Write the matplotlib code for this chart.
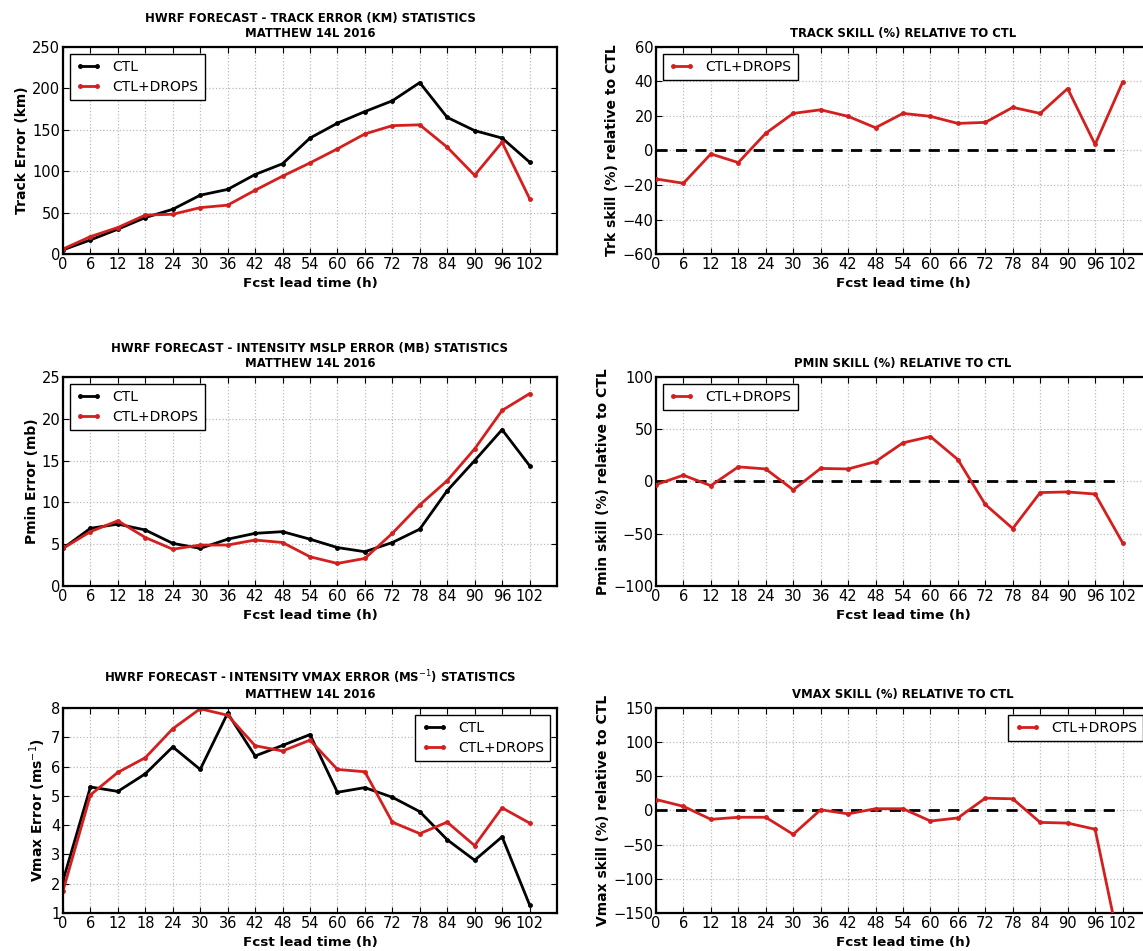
import numpy as np
import matplotlib
matplotlib.use('Agg')
import matplotlib.pyplot as plt

# Forecast lead times (h)
lead = [0, 6, 12, 18, 24, 30, 36, 42, 48, 54, 60, 66, 72, 78, 84, 90, 96, 102]

# Track error (km)
trk_ctl = [5, 17, 30, 44, 54, 71, 78, 96, 109, 140, 158, 172, 185, 207, 165, 149, 140, 111]
trk_drops = [6, 21, 32, 47, 48, 56, 59, 77, 94, 110, 127, 145, 155, 156, 129, 95, 135, 67]
trk_skill = [-16.5, -19, -2, -7, 10, 21.5, 23.6, 19.8, 13.2, 21.5, 19.8, 15.7, 16.3, 25, 21.5, 35.9, 3.5, 39.5]

# Pmin error (mb)
pmin_ctl = [4.5, 6.9, 7.4, 6.7, 5.1, 4.5, 5.6, 6.3, 6.5, 5.6, 4.6, 4.1, 5.2, 6.8, 11.4, 15.0, 18.7, 14.4]
pmin_drops = [4.5, 6.5, 7.8, 5.8, 4.4, 4.9, 4.9, 5.5, 5.2, 3.5, 2.7, 3.3, 6.3, 9.7, 12.6, 16.4, 21.0, 23.0]
pmin_skill = [-3, 6, -4, 14, 12, -8, 12.5, 12, 19, 37, 43, 21, -22, -45, -10.6, -10, -12, -58.5]

# Vmax error (m/s)
vmax_ctl = [2.1, 5.3, 5.15, 5.75, 6.67, 5.9, 7.82, 6.36, 6.72, 7.09, 5.12, 5.28, 4.95, 4.46, 3.5, 2.8, 3.6, 1.28]
vmax_drops = [1.75, 5.03, 5.8, 6.3, 7.29, 7.97, 7.75, 6.71, 6.53, 6.9, 5.9, 5.82, 4.1, 3.71, 4.1, 3.3, 4.59, 4.07]
vmax_skill = [16, 6, -13, -10, -10, -35, 1, -5, 2.5, 2.5, -15.5, -11, 18, 17, -17.5, -18.5, -27.5, -219]

RED = '#d41f1f'
plt.rcParams['font.family'] = 'DejaVu Sans'
plt.rcParams['xtick.direction'] = 'in'
plt.rcParams['ytick.direction'] = 'in'
plt.rcParams['xtick.top'] = True
plt.rcParams['ytick.right'] = True

fig = plt.figure(figsize=(11.43, 9.51), dpi=100)

xl, xr, w = 0.0551, 0.5739, 0.4322
rows = [(0.7329, 0.2177), (0.3838, 0.2198), (0.0400, 0.2156)]

def style(ax, ylims, yticks, ylabel, title, loc):
    ax.set_xlim(0, 108)
    ax.set_xticks(lead)
    ax.set_ylim(*ylims)
    ax.set_yticks(yticks)
    ax.grid(True, color='#bbbbbb', linestyle=':', linewidth=0.9)
    ax.set_axisbelow(True)
    ax.tick_params(labelsize=10.5, length=4, width=0.8, pad=2)
    for s in ax.spines.values():
        s.set_linewidth(1.6)
    ax.set_xlabel('Fcst lead time (h)', fontsize=9.7, fontweight='bold', labelpad=3.5)
    ax.set_ylabel(ylabel, fontsize=10, fontweight='bold', labelpad=2)
    ax.set_title(title, fontsize=8.4, fontweight='bold', pad=7, linespacing=1.2)
    leg = ax.legend(loc=loc, fontsize=10, fancybox=False, numpoints=2,
                    handlelength=1.8, borderpad=0.45, labelspacing=0.4,
                    handletextpad=0.8, borderaxespad=0.5, framealpha=1)
    leg.get_frame().set_edgecolor('black')
    leg.get_frame().set_linewidth(1.0)

def err_panel(row, ctl, drops, ylims, yticks, ylabel, title, loc):
    b, h = rows[row]
    ax = fig.add_axes([xl, b, w, h])
    ax.plot(lead, ctl, color='black', lw=2, marker='.', ms=5, label='CTL')
    ax.plot(lead, drops, color=RED, lw=2, marker='.', ms=5, label='CTL+DROPS')
    style(ax, ylims, yticks, ylabel, title, loc)

def skill_panel(row, skill, ylims, yticks, ylabel, title, loc):
    b, h = rows[row]
    ax = fig.add_axes([xr, b, w, h])
    ax.hlines(0, 0, 101, colors='black', linestyles=(0, (4, 3)), linewidth=2, zorder=2)
    ax.plot(lead, skill, color=RED, lw=2, marker='.', ms=5, label='CTL+DROPS', zorder=3)
    style(ax, ylims, yticks, ylabel, title, loc)

err_panel(0, trk_ctl, trk_drops, (0, 250), range(0, 251, 50), 'Track Error (km)',
          'HWRF FORECAST - TRACK ERROR (KM) STATISTICS\nMATTHEW 14L 2016', 'upper left')
skill_panel(0, trk_skill, (-60, 60), range(-60, 61, 20), 'Trk skill (%) relative to CTL',
            'TRACK SKILL (%) RELATIVE TO CTL', 'upper left')

err_panel(1, pmin_ctl, pmin_drops, (0, 25), range(0, 26, 5), 'Pmin Error (mb)',
          'HWRF FORECAST - INTENSITY MSLP ERROR (MB) STATISTICS\nMATTHEW 14L 2016', 'upper left')
skill_panel(1, pmin_skill, (-100, 100), range(-100, 101, 50), 'Pmin skill (%) relative to CTL',
            'PMIN SKILL (%) RELATIVE TO CTL', 'upper left')

err_panel(2, vmax_ctl, vmax_drops, (1, 8), range(1, 9), r'Vmax Error (ms$^{-1}$)',
          'HWRF FORECAST - INTENSITY VMAX ERROR (MS$^{-1}$) STATISTICS\nMATTHEW 14L 2016', 'upper right')
skill_panel(2, vmax_skill, (-150, 150), range(-150, 151, 50), 'Vmax skill (%) relative to CTL',
            'VMAX SKILL (%) RELATIVE TO CTL', 'upper right')

fig.savefig('out.png', dpi=100, facecolor='white')
